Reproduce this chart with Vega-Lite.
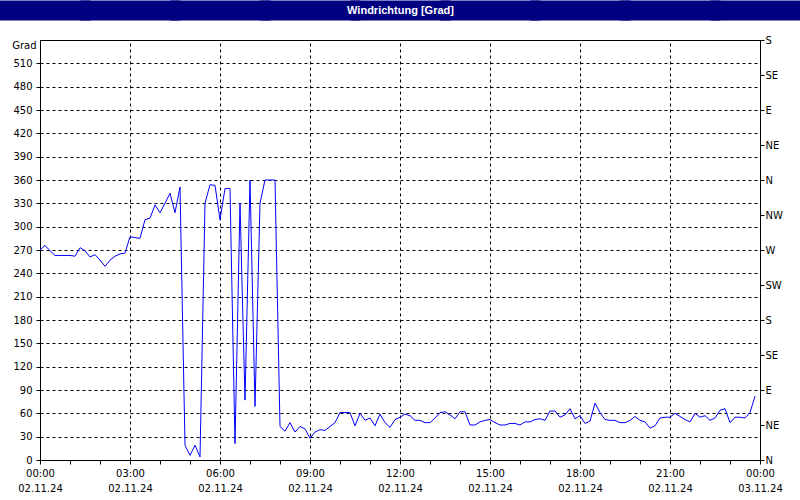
{
  "$schema": "https://vega.github.io/schema/vega-lite/v6.json",
  "autosize": "none",
  "padding": {"left": 40, "top": 40, "right": 40, "bottom": 40},
  "background": "white",
  "width": 720,
  "height": 420,
  "view": {"stroke": "black", "strokeWidth": 1, "fill": "white"},
  "data": {"values": [
    {"t":"2024-11-02T00:00","v":270},{"t":"2024-11-02T00:10","v":276},{"t":"2024-11-02T00:20","v":269},{"t":"2024-11-02T00:30","v":263},{"t":"2024-11-02T00:40","v":263},{"t":"2024-11-02T00:50","v":263},
    {"t":"2024-11-02T01:00","v":263},{"t":"2024-11-02T01:10","v":262},{"t":"2024-11-02T01:20","v":273},{"t":"2024-11-02T01:30","v":269},{"t":"2024-11-02T01:40","v":261},{"t":"2024-11-02T01:50","v":264},
    {"t":"2024-11-02T02:00","v":257},{"t":"2024-11-02T02:10","v":249},{"t":"2024-11-02T02:20","v":257},{"t":"2024-11-02T02:30","v":262},{"t":"2024-11-02T02:40","v":265},{"t":"2024-11-02T02:50","v":266},
    {"t":"2024-11-02T03:00","v":287},{"t":"2024-11-02T03:10","v":286},{"t":"2024-11-02T03:20","v":285},{"t":"2024-11-02T03:30","v":309},{"t":"2024-11-02T03:40","v":311},{"t":"2024-11-02T03:50","v":328},
    {"t":"2024-11-02T04:00","v":318},{"t":"2024-11-02T04:10","v":330},{"t":"2024-11-02T04:20","v":343},{"t":"2024-11-02T04:30","v":318},{"t":"2024-11-02T04:40","v":351},{"t":"2024-11-02T04:50","v":19},
    {"t":"2024-11-02T05:00","v":6},{"t":"2024-11-02T05:10","v":19},{"t":"2024-11-02T05:20","v":4},{"t":"2024-11-02T05:30","v":330},{"t":"2024-11-02T05:40","v":354},{"t":"2024-11-02T05:50","v":353},
    {"t":"2024-11-02T06:00","v":309},{"t":"2024-11-02T06:10","v":349},{"t":"2024-11-02T06:20","v":349},{"t":"2024-11-02T06:30","v":21},{"t":"2024-11-02T06:40","v":330},{"t":"2024-11-02T06:50","v":77},
    {"t":"2024-11-02T07:00","v":360},{"t":"2024-11-02T07:10","v":69},{"t":"2024-11-02T07:20","v":330},{"t":"2024-11-02T07:30","v":360},{"t":"2024-11-02T07:40","v":360},{"t":"2024-11-02T07:50","v":360},
    {"t":"2024-11-02T08:00","v":43},{"t":"2024-11-02T08:10","v":37},{"t":"2024-11-02T08:20","v":48},{"t":"2024-11-02T08:30","v":36},{"t":"2024-11-02T08:40","v":43},{"t":"2024-11-02T08:50","v":40},
    {"t":"2024-11-02T09:00","v":28},{"t":"2024-11-02T09:10","v":36},{"t":"2024-11-02T09:20","v":39},{"t":"2024-11-02T09:30","v":38},{"t":"2024-11-02T09:40","v":43},{"t":"2024-11-02T09:50","v":48},
    {"t":"2024-11-02T10:00","v":61},{"t":"2024-11-02T10:10","v":61},{"t":"2024-11-02T10:20","v":61},{"t":"2024-11-02T10:30","v":44},{"t":"2024-11-02T10:40","v":60},{"t":"2024-11-02T10:50","v":51},
    {"t":"2024-11-02T11:00","v":54},{"t":"2024-11-02T11:10","v":44},{"t":"2024-11-02T11:20","v":59},{"t":"2024-11-02T11:30","v":48},{"t":"2024-11-02T11:40","v":42},{"t":"2024-11-02T11:50","v":52},
    {"t":"2024-11-02T12:00","v":55},{"t":"2024-11-02T12:10","v":59},{"t":"2024-11-02T12:20","v":57},{"t":"2024-11-02T12:30","v":51},{"t":"2024-11-02T12:40","v":51},{"t":"2024-11-02T12:50","v":48},
    {"t":"2024-11-02T13:00","v":48},{"t":"2024-11-02T13:10","v":54},{"t":"2024-11-02T13:20","v":61},{"t":"2024-11-02T13:30","v":62},{"t":"2024-11-02T13:40","v":58},{"t":"2024-11-02T13:50","v":53},
    {"t":"2024-11-02T14:00","v":62},{"t":"2024-11-02T14:10","v":62},{"t":"2024-11-02T14:20","v":45},{"t":"2024-11-02T14:30","v":45},{"t":"2024-11-02T14:40","v":49},{"t":"2024-11-02T14:50","v":51},
    {"t":"2024-11-02T15:00","v":52},{"t":"2024-11-02T15:10","v":48},{"t":"2024-11-02T15:20","v":45},{"t":"2024-11-02T15:30","v":45},{"t":"2024-11-02T15:40","v":47},{"t":"2024-11-02T15:50","v":47},
    {"t":"2024-11-02T16:00","v":45},{"t":"2024-11-02T16:10","v":49},{"t":"2024-11-02T16:20","v":49},{"t":"2024-11-02T16:30","v":52},{"t":"2024-11-02T16:40","v":53},{"t":"2024-11-02T16:50","v":51},
    {"t":"2024-11-02T17:00","v":63},{"t":"2024-11-02T17:10","v":63},{"t":"2024-11-02T17:20","v":55},{"t":"2024-11-02T17:30","v":58},{"t":"2024-11-02T17:40","v":66},{"t":"2024-11-02T17:50","v":53},
    {"t":"2024-11-02T18:00","v":57},{"t":"2024-11-02T18:10","v":47},{"t":"2024-11-02T18:20","v":50},{"t":"2024-11-02T18:30","v":73},{"t":"2024-11-02T18:40","v":61},{"t":"2024-11-02T18:50","v":52},
    {"t":"2024-11-02T19:00","v":51},{"t":"2024-11-02T19:10","v":51},{"t":"2024-11-02T19:20","v":48},{"t":"2024-11-02T19:30","v":48},{"t":"2024-11-02T19:40","v":51},{"t":"2024-11-02T19:50","v":56},
    {"t":"2024-11-02T20:00","v":51},{"t":"2024-11-02T20:10","v":49},{"t":"2024-11-02T20:20","v":41},{"t":"2024-11-02T20:30","v":44},{"t":"2024-11-02T20:40","v":54},{"t":"2024-11-02T20:50","v":55},
    {"t":"2024-11-02T21:00","v":55},{"t":"2024-11-02T21:10","v":60},{"t":"2024-11-02T21:20","v":56},{"t":"2024-11-02T21:30","v":52},{"t":"2024-11-02T21:40","v":49},{"t":"2024-11-02T21:50","v":60},
    {"t":"2024-11-02T22:00","v":55},{"t":"2024-11-02T22:10","v":57},{"t":"2024-11-02T22:20","v":51},{"t":"2024-11-02T22:30","v":54},{"t":"2024-11-02T22:40","v":64},{"t":"2024-11-02T22:50","v":66},
    {"t":"2024-11-02T23:00","v":48},{"t":"2024-11-02T23:10","v":55},{"t":"2024-11-02T23:20","v":55},{"t":"2024-11-02T23:30","v":54},{"t":"2024-11-02T23:40","v":61},{"t":"2024-11-02T23:50","v":82}
  ]},
  "layer": [
    {
      "mark": {"type": "line", "color": "#0000FF", "strokeWidth": 1},
      "encoding": {
        "x": {"field": "t", "type": "temporal",
          "scale": {"domain": [{"year": 2024, "month": 11, "date": 2}, {"year": 2024, "month": 11, "date": 3}], "nice": false},
          "axis": {"orient": "bottom", "title": null,
            "values": [
              {"year": 2024, "month": 11, "date": 2, "hours": 0}, {"year": 2024, "month": 11, "date": 2, "hours": 1}, {"year": 2024, "month": 11, "date": 2, "hours": 2},
              {"year": 2024, "month": 11, "date": 2, "hours": 3}, {"year": 2024, "month": 11, "date": 2, "hours": 4}, {"year": 2024, "month": 11, "date": 2, "hours": 5},
              {"year": 2024, "month": 11, "date": 2, "hours": 6}, {"year": 2024, "month": 11, "date": 2, "hours": 7}, {"year": 2024, "month": 11, "date": 2, "hours": 8},
              {"year": 2024, "month": 11, "date": 2, "hours": 9}, {"year": 2024, "month": 11, "date": 2, "hours": 10}, {"year": 2024, "month": 11, "date": 2, "hours": 11},
              {"year": 2024, "month": 11, "date": 2, "hours": 12}, {"year": 2024, "month": 11, "date": 2, "hours": 13}, {"year": 2024, "month": 11, "date": 2, "hours": 14},
              {"year": 2024, "month": 11, "date": 2, "hours": 15}, {"year": 2024, "month": 11, "date": 2, "hours": 16}, {"year": 2024, "month": 11, "date": 2, "hours": 17},
              {"year": 2024, "month": 11, "date": 2, "hours": 18}, {"year": 2024, "month": 11, "date": 2, "hours": 19}, {"year": 2024, "month": 11, "date": 2, "hours": 20},
              {"year": 2024, "month": 11, "date": 2, "hours": 21}, {"year": 2024, "month": 11, "date": 2, "hours": 22}, {"year": 2024, "month": 11, "date": 2, "hours": 23},
              {"year": 2024, "month": 11, "date": 3, "hours": 0}],
            "labelExpr": "indexof(['00','03','06','09','12','15','18','21'], timeFormat(datum.value, '%H')) >= 0 ? [timeFormat(datum.value, '%H:%M'), timeFormat(datum.value, '%d.%m.%y')] : ''",
            "labelOverlap": false, "labelFlush": false, "labelBound": false,
            "tickSize": 4, "tickColor": "black", "domainColor": "black", "labelPadding": 4,
            "labelFont": "DejaVu Sans", "labelFontSize": 10, "labelColor": "black", "labelLineHeight": 15,
            "grid": false}},
        "y": {"field": "v", "type": "quantitative",
          "scale": {"domain": [0, 540], "nice": false, "zero": false},
          "axis": {"orient": "left", "values": [0, 30, 60, 90, 120, 150, 180, 210, 240, 270, 300, 330, 360, 390, 420, 450, 480, 510],
            "title": "Grad", "titleAngle": 0, "titleX": -4, "titleY": 5, "titleAlign": "right", "titleBaseline": "middle",
            "titleFontWeight": "normal", "titleFontSize": 10, "titleFont": "DejaVu Sans", "titleColor": "black",
            "labelFont": "DejaVu Sans", "labelFontSize": 10, "labelColor": "black", "labelPadding": 4,
            "tickSize": 4, "tickColor": "black", "domainColor": "black",
            "grid": true, "gridColor": "black", "gridDash": [3, 3], "gridOpacity": 1}}
      }
    },
    {
      "mark": {"type": "line", "opacity": 0},
      "encoding": {
        "x": {"field": "t", "type": "temporal",
          "axis": {"orient": "top", "labels": false, "domain": false, "offset": 20,
            "values": [
              {"year": 2024, "month": 11, "date": 2, "hours": 0}, {"year": 2024, "month": 11, "date": 2, "hours": 3}, {"year": 2024, "month": 11, "date": 2, "hours": 6},
              {"year": 2024, "month": 11, "date": 2, "hours": 9}, {"year": 2024, "month": 11, "date": 2, "hours": 12}, {"year": 2024, "month": 11, "date": 2, "hours": 15},
              {"year": 2024, "month": 11, "date": 2, "hours": 18}, {"year": 2024, "month": 11, "date": 2, "hours": 21}, {"year": 2024, "month": 11, "date": 3, "hours": 0}],
            "tickSize": 20, "tickWidth": 100, "tickColor": "#000080", "tickCap": "butt",
            "grid": true, "gridColor": "black", "gridDash": [3, 3], "gridOpacity": 1,
            "title": "Windrichtung [Grad]", "titleColor": "white", "titleFont": "Liberation Sans", "titleFontWeight": "bold", "titleFontSize": 11,
            "titleAngle": 0, "titleX": 360, "titleY": -10, "titleAlign": "center", "titleBaseline": "middle"}},
        "y": {"field": "v", "type": "quantitative",
          "axis": {"orient": "right", "values": [0, 45, 90, 135, 180, 225, 270, 315, 360, 405, 450, 495, 540],
            "labelExpr": "['N','NE','E','SE','S','SW','W','NW','N','NE','E','SE','S'][round(datum.value / 45)]",
            "title": null, "grid": false, "tickSize": 4, "tickColor": "black", "domainColor": "black",
            "labelPadding": 1, "labelFont": "DejaVu Sans", "labelFontSize": 10, "labelColor": "black",
            "labelBound": false, "labelFlush": false, "labelOverlap": false}}
      }
    }
  ],
  "resolve": {"axis": {"x": "independent", "y": "independent"}}
}
